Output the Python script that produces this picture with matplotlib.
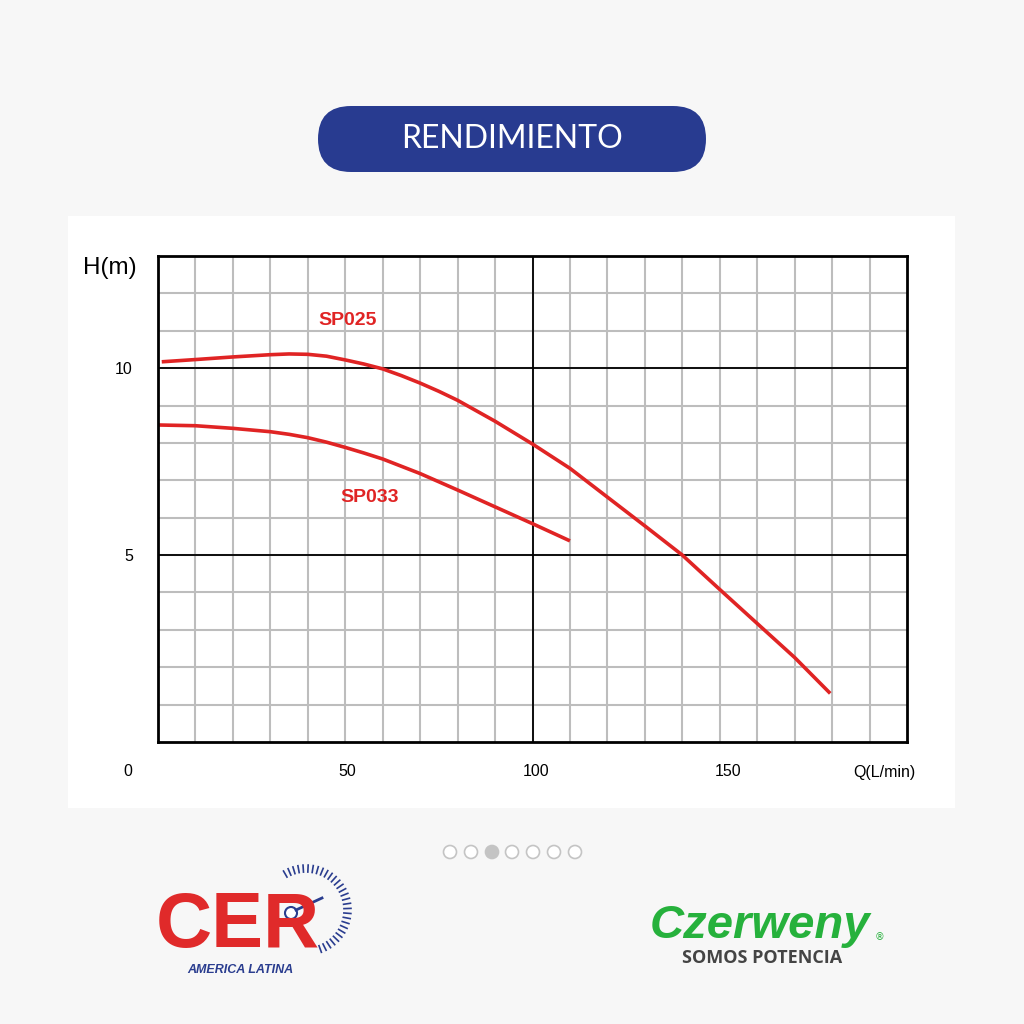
import matplotlib.pyplot as plt
import numpy as np
from matplotlib.patches import FancyBboxPatch, Circle, Rectangle

# curve readings, Q (L/min) vs H (m)
q_sp025 = [1, 10, 20, 30, 35, 40, 45, 50, 55, 60, 65, 70, 75, 80, 90, 100, 110, 120, 130, 140, 150, 160, 170, 179.5]
h_sp025 = [10.17, 10.23, 10.3, 10.36, 10.38, 10.37, 10.32, 10.22, 10.11, 9.98, 9.8, 9.6, 9.38, 9.14, 8.58, 7.97, 7.32, 6.55, 5.78, 5.0, 4.08, 3.17, 2.26, 1.3]
q_sp033 = [0, 10, 20, 30, 35, 40, 45, 50, 55, 60, 70, 80, 90, 100, 110]
h_sp033 = [8.48, 8.46, 8.39, 8.3, 8.23, 8.14, 8.02, 7.88, 7.73, 7.57, 7.18, 6.74, 6.29, 5.84, 5.38]

x_ticks = [50, 100, 150]
y_ticks = [5, 10]
x_minor = np.arange(10, 200, 10)
y_minor = np.arange(1, 13, 1)

red = '#e02424'
fig = plt.figure(figsize=(10.24, 10.24), dpi=100)
fig.patch.set_facecolor('#f7f7f7')

# white panel behind chart
fig.patches.append(Rectangle((68/1024, 1-808/1024), 887/1024, 592/1024,
                             transform=fig.transFigure, facecolor='white', edgecolor='none', zorder=0))

# title pill
fig.patches.append(FancyBboxPatch((318/1024, 1-172/1024), 388/1024, 66/1024,
                                  boxstyle='round,pad=0,rounding_size=0.0322',
                                  transform=fig.transFigure, facecolor='#283b90', edgecolor='none'))
fig.text(512/1024, 1-139/1024, 'RENDIMIENTO', color='white', fontsize=23, family='Lato',
         ha='center', va='center')

ax = fig.add_axes([158/1024, 1-742/1024, 749/1024, 486/1024])
ax.set_zorder(3)
ax.set_xlim(0, 200)
ax.set_ylim(0, 13)
ax.set_facecolor('white')

for x in x_minor:
    ax.axvline(x, color='#bdbdbd', lw=1.5, zorder=1)
for y in y_minor:
    ax.axhline(y, color='#bdbdbd', lw=1.5, zorder=1)
ax.axvline(100, color='black', lw=1.3, zorder=2)
for y in y_ticks:
    ax.axhline(y, color='black', lw=1.3, zorder=2)

for s in ax.spines.values():
    s.set_linewidth(2)
    s.set_color('black')
    s.set_zorder(5)

ax.plot(q_sp025, h_sp025, color=red, lw=2.6, solid_capstyle='butt', solid_joinstyle='round', zorder=4)
ax.plot(q_sp033, h_sp033, color=red, lw=2.6, solid_capstyle='butt', solid_joinstyle='round', zorder=4)
ax.text(50.7, 11.28, 'SP025', color=red, fontsize=14, fontweight='bold',
        family='Liberation Sans', ha='center', va='center', zorder=6)
ax.text(56.6, 6.55, 'SP033', color=red, fontsize=14, fontweight='bold',
        family='Liberation Sans', ha='center', va='center', zorder=6)

ax.set_xticks([])
ax.set_yticks(y_ticks)
ax.set_yticklabels([str(v) for v in y_ticks], family='Liberation Sans', fontsize=11.5)
ax.tick_params(axis='y', length=0, pad=18)

# x labels row below the axis
tr = ax.get_xaxis_transform()
ax.text(-8, -30/486, '0', transform=tr, ha='center', va='center', fontsize=11.5,
        family='Liberation Sans', clip_on=False)
for v, xp in zip(x_ticks, [50.5, 101, 152.3]):
    ax.text(xp, -30/486, str(v), transform=tr, ha='center', va='center', fontsize=11.5,
            family='Liberation Sans', clip_on=False)
ax.text(194, -30/486, 'Q(L/min)', transform=tr, ha='center', va='center', fontsize=11.5,
        family='Liberation Sans', clip_on=False)
ax.text(-0.064, 0.975, 'H(m)', transform=ax.transAxes, ha='center', va='center', fontsize=17.5,
        family='Liberation Sans', clip_on=False)

# pagination dots
for i, cx in enumerate([450, 471, 492, 512, 533, 554, 575]):
    fc = '#c4c4c4' if i == 2 else 'white'
    fig.patches.append(Circle((cx/1024, 1-852/1024), 6.5/1024, transform=fig.transFigure,
                              facecolor=fc, edgecolor='#c4c4c4', lw=1.2))

# CER logo
fig.text(238/1024, 1-926/1024, 'CER', color='#e02a2a', fontsize=56, fontweight='heavy',
         family='Liberation Sans', ha='center', va='center')
ang = np.linspace(np.radians(-70), np.radians(120), 30)
cx, cy, r = 306/1024, 1-910/1024, 45/1024
for a in ang:
    fig.lines.append(plt.Line2D([cx + r*np.cos(a), cx + (r-7/1024)*np.cos(a)],
                                [cy + r*np.sin(a), cy + (r-7/1024)*np.sin(a)],
                                transform=fig.transFigure, color='#2a3d8f', lw=1.2))
fig.patches.append(Circle((291/1024, 1-913/1024), 6/1024, transform=fig.transFigure,
                          facecolor='white', edgecolor='#2a3d8f', lw=1.5))
fig.lines.append(plt.Line2D([296/1024, 322/1024], [1-910/1024, 1-898/1024],
                            transform=fig.transFigure, color='#2a3d8f', lw=2))
fig.text(240/1024, 1-970/1024, 'AMERICA LATINA', color='#2a3d8f', fontsize=9, fontweight='bold',
         style='italic', family='Liberation Sans', ha='center', va='center')

# Czerweny logo
fig.text(760/1024, 1-926/1024, 'Czerweny', color='#26b13c', fontsize=34, fontweight='heavy',
         style='italic', family='Liberation Sans', ha='center', va='center')
fig.text(879/1024, 1-937/1024, '®', color='#26b13c', fontsize=7, ha='center', va='center')
fig.text(762/1024, 1-958/1024, 'SOMOS POTENCIA', color='#444444', fontsize=13, fontweight='bold',
         family='Open Sans', ha='center', va='center')

fig.savefig('out.png', dpi=100, facecolor=fig.get_facecolor())
